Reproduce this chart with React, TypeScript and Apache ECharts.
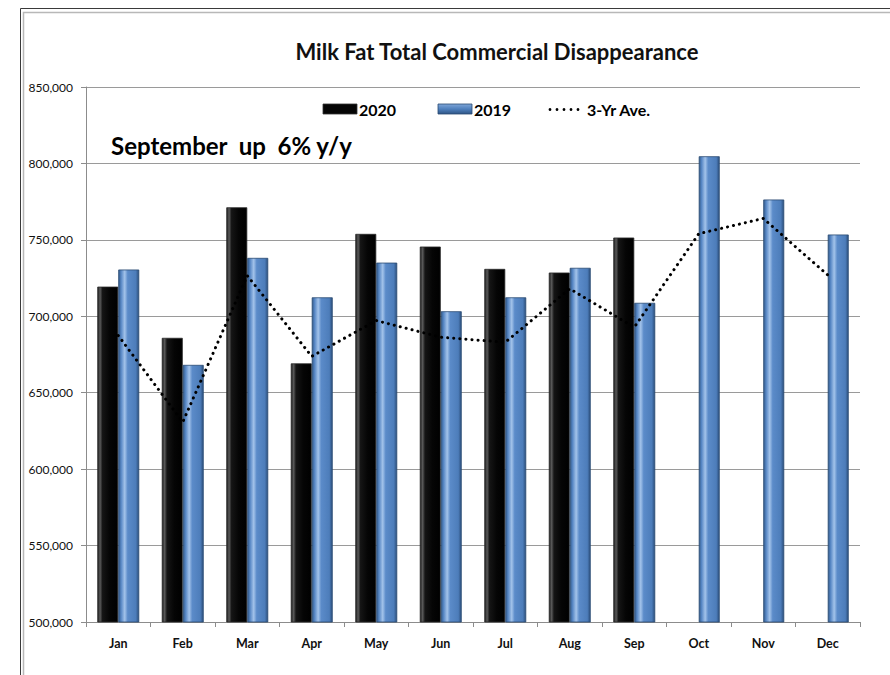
import React, { useEffect, useRef } from "react";
import * as echarts from "echarts";

const months = ["Jan", "Feb", "Mar", "Apr", "May", "Jun", "Jul", "Aug", "Sep", "Oct", "Nov", "Dec"];
const values2020 = [719400, 685900, 771300, 669200, 753900, 745600, 731000, 728600, 751500, null, null, null];
const values2019 = [730600, 668200, 738200, 712400, 735100, 703300, 712400, 731700, 708800, 804700, 776400, 753500];
const avg3yr = [687400, 630800, 726600, 673800, 697200, 686300, 683000, 718000, 692800, 754000, 764000, 727000];
const legendNames = ["2020", "2019", "3-Yr Ave."];

const FONT = "Lato, 'Noto Sans', sans-serif";

export default function App() {
  const ref = useRef<HTMLDivElement>(null);
  useEffect(() => {
    if (!ref.current) return;
    const chart = echarts.init(ref.current, undefined, { renderer: "svg" });
    const blackGrad = () =>
      new echarts.graphic.LinearGradient(0, 0, 1, 0, [
        { offset: 0, color: "#1c1c1c" },
        { offset: 0.12, color: "#5a5a5a" },
        { offset: 0.24, color: "#151515" },
        { offset: 0.6, color: "#050505" },
        { offset: 1, color: "#000000" },
      ]);
    const blueGrad = () =>
      new echarts.graphic.LinearGradient(0, 0, 1, 0, [
        { offset: 0, color: "#345b8a" },
        { offset: 0.12, color: "#5686c4" },
        { offset: 0.3, color: "#a3c3ea" },
        { offset: 0.45, color: "#5b8bc9" },
        { offset: 0.85, color: "#4d7dba" },
        { offset: 1, color: "#2c4f7c" },
      ]);
    const legendBlue = new echarts.graphic.LinearGradient(0, 0, 0, 1, [
      { offset: 0, color: "#7fa6d8" },
      { offset: 0.5, color: "#4f80bd" },
      { offset: 1, color: "#2f5585" },
    ]);
    const dots = [0, 1, 2, 3, 4].map((i) => ({
      type: "circle",
      shape: { cx: 550 + i * 7, cy: 109.5, r: 1.4 },
      style: { fill: "#000" },
      silent: true,
    }));
    chart.setOption({
      animation: false,
      backgroundColor: "#ffffff",
      grid: { left: 86, right: 30, top: 87, bottom: 53, containLabel: false },
      xAxis: {
        type: "category",
        data: months,
        axisLine: { lineStyle: { color: "#8c8c8c", width: 1 } },
        axisTick: { show: true, length: 5, lineStyle: { color: "#8c8c8c" } },
        axisLabel: { fontFamily: FONT, fontWeight: "bold", fontSize: 12.5, color: "#111", margin: 15 },
      },
      yAxis: {
        type: "value",
        min: 500000,
        max: 850000,
        interval: 50000,
        axisLine: { show: true, lineStyle: { color: "#8c8c8c", width: 1 } },
        axisTick: { show: true, length: 5, lineStyle: { color: "#8c8c8c" } },
        axisLabel: {
          fontFamily: FONT,
          fontSize: 12,
          color: "#111",
          margin: 13,
          formatter: (v: number) => v.toLocaleString("en-US"),
        },
        splitLine: { lineStyle: { color: "#9a9a9a", width: 1 } },
      },
      series: [
        {
          name: legendNames[0],
          type: "bar",
          data: values2020,
          barGap: "0%",
          barCategoryGap: "35%",
          itemStyle: { color: blackGrad(), borderColor: "#2a2a2a", borderWidth: 0.8 },
        },
        {
          name: legendNames[1],
          type: "bar",
          data: values2019,
          itemStyle: { color: blueGrad(), borderColor: "#2a4a72", borderWidth: 0.8 },
        },
        {
          name: legendNames[2],
          type: "line",
          data: avg3yr,
          symbol: "none",
          z: 5,
          lineStyle: { color: "#000", width: 3, type: [0.1, 6], cap: "round" },
          itemStyle: { color: "#000" },
        },
      ],
      graphic: [
        {
          type: "rect",
          shape: { x: 20.5, y: 8.5, width: 900, height: 700 },
          style: { fill: "none", stroke: "#3a3a3a", lineWidth: 1 },
          silent: true,
        },
        {
          type: "rect",
          shape: { x: 23.5, y: 12.5, width: 900, height: 700 },
          style: { fill: "none", stroke: "#b8b8b8", lineWidth: 1.5 },
          silent: true,
        },
        {
          type: "text",
          x: 497,
          y: 51,
          style: {
            text: "Milk Fat Total Commercial Disappearance",
            fontFamily: FONT,
            fontWeight: "bold",
            fontSize: 22,
            fill: "#111",
            textAlign: "center",
            textVerticalAlign: "middle",
          },
        },
        {
          type: "text",
          x: 111,
          y: 145,
          style: {
            text: "September  up  6% y/y",
            fontFamily: FONT,
            fontWeight: "bold",
            fontSize: 24,
            fill: "#000",
            textAlign: "left",
            textVerticalAlign: "middle",
          },
        },
        {
          type: "rect",
          shape: { x: 323, y: 104, width: 34, height: 10 },
          style: { fill: "#050505", stroke: "#333", lineWidth: 0.8 },
        },
        {
          type: "text",
          x: 359,
          y: 109.5,
          style: {
            text: legendNames[0],
            fontFamily: FONT,
            fontWeight: "bold",
            fontSize: 16,
            fill: "#000",
            textAlign: "left",
            textVerticalAlign: "middle",
          },
        },
        {
          type: "rect",
          shape: { x: 438, y: 104, width: 34, height: 10 },
          style: { fill: legendBlue, stroke: "#2a4a72", lineWidth: 0.8 },
        },
        {
          type: "text",
          x: 474,
          y: 109.5,
          style: {
            text: legendNames[1],
            fontFamily: FONT,
            fontWeight: "bold",
            fontSize: 16,
            fill: "#000",
            textAlign: "left",
            textVerticalAlign: "middle",
          },
        },
        ...dots,
        {
          type: "text",
          x: 587,
          y: 109.5,
          style: {
            text: legendNames[2],
            fontFamily: FONT,
            fontWeight: "bold",
            fontSize: 16,
            fill: "#000",
            textAlign: "left",
            textVerticalAlign: "middle",
          },
        },
      ],
    });
    return () => chart.dispose();
  }, []);
  return (
    <div
      ref={ref}
      style={{ position: "fixed", left: 0, top: 0, width: 890, height: 675, background: "#fff" }}
    />
  );
}
